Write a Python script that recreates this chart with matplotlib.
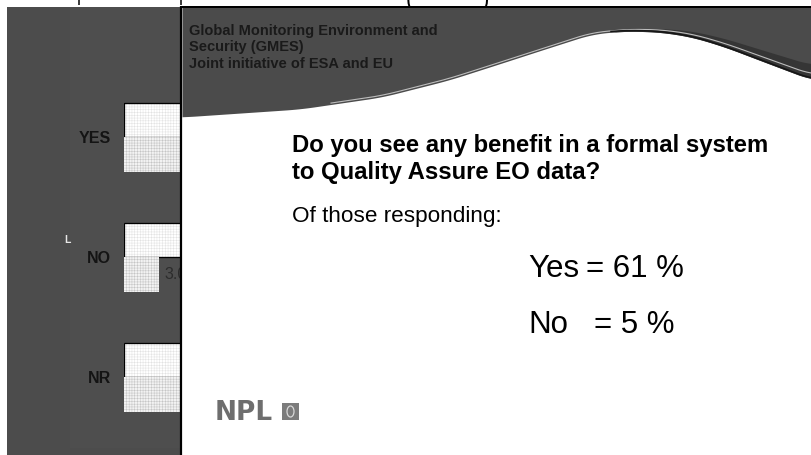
import numpy as np
import matplotlib
matplotlib.use("Agg")
import matplotlib.pyplot as plt
from matplotlib.patches import Rectangle, Ellipse

plt.rcParams['font.family'] = ['Liberation Sans', 'DejaVu Sans']
plt.rcParams['hatch.linewidth'] = 0.35

# ---- data (left bar chart, partly hidden behind the slide) ----
categories = ["YES", "NO", "NR"]
series_a = [61.0, 5.0, 34.0]
series_b = [57.0, 3.0, 39.0]

# ---- slide text ----
header_lines = ["Global Monitoring Environment and",
                "Security (GMES)",
                "Joint initiative of ESA and EU"]
question_lines = ["Do you see any benefit in a formal system",
                  "to Quality Assure EO data?"]
subtitle = "Of those responding:"
answer_labels = ["Yes", "No"]
answer_values = [61, 5]

W, H = 812, 455
fig = plt.figure(figsize=(W / 100, H / 100), dpi=100, facecolor='white')


def frac(x0, y0, x1, y1):
    return [x0 / W, 1 - y1 / H, (x1 - x0) / W, (y1 - y0) / H]


def px(n):
    return n * 72 / 100


# ---- background layer ----
bg = fig.add_axes([0, 0, 1, 1], zorder=0)
bg.set_xlim(0, W)
bg.set_ylim(H, 0)
bg.axis('off')
bg.add_patch(Rectangle((7, 7), 174, 448, color='#4c4c4c', lw=0))
bg.add_patch(Rectangle((70, 7), 111, 441, color='#4e4e4e', lw=0))
for x in (79, 181):
    bg.plot([x, x], [0, 5], color='black', lw=px(1.5), solid_capstyle='butt')
bg.text(406, 11, "(", fontsize=16, color='black', ha='left', va='bottom')
bg.text(482, 11, ")", fontsize=16, color='black', ha='left', va='bottom')
bg.text(67, 240, "L", color='#e6e6e6', fontsize=7.5, fontweight='bold',
        ha='center', va='center')

# ---- bar chart ----
ax = fig.add_axes(frac(124, 7, 181, 455), zorder=1)
ax.patch.set_alpha(0)
ax.set_xlim(0, 4.9)
ax.set_ylim(2.646, -1.0875)
pos = np.arange(len(categories))
h = 0.2875
ya = pos - h / 2
yb = pos + h / 2
ax.barh(ya, series_a, height=h, color='white', edgecolor='#e2e2e2',
        hatch='++++++', lw=0)
ax.barh(ya, series_a, height=h, fill=False, edgecolor='black', lw=px(1.3))
ax.barh(yb, series_b, height=h, color='#f2f2f2', edgecolor='#c4c4c4',
        hatch='++++++', lw=0)
for v, y in zip(series_b, yb):
    ax.text(v + 0.5, y, f"{v:.1f}", fontsize=11.5, color='#2c2c2c',
            ha='left', va='center', clip_on=True)
ax.set_yticks(pos, categories, fontweight='bold', fontsize=11.5, color='#141414')
ax.tick_params(axis='y', length=0, pad=px(13))
ax.set_xticks([])
for s in ax.spines.values():
    s.set_visible(False)

# ---- slide ----
sl = fig.add_axes(frac(182, 7, 812, 455), zorder=2)
sl.set_xlim(182, 812)
sl.set_ylim(455, 7)
sl.axis('off')
sl.add_patch(Rectangle((182, 7), 630, 448, color='white', lw=0, zorder=0))

cx = [182, 300, 382, 449, 502, 542, 592, 625, 660, 692, 725, 759, 812]
cy = [117, 109, 97, 80, 63, 50, 34, 31, 32, 37, 47, 60, 80]
xs = np.arange(182, 813, dtype=float)
wy = np.interp(xs, cx, cy)
k = 31
wy = np.convolve(np.pad(wy, k // 2, mode='edge'), np.ones(k) / k, mode='valid')
sl.fill_between(xs, 6, wy, color='#4b4b4b', lw=0, zorder=1)
t = np.clip((xs - 610) / 202, 0, 1)
sl.fill_between(xs, wy - t * 15, wy, color='#353535', lw=0, zorder=1.5)
m1 = xs > 330
sl.plot(xs[m1], (wy - 1.4 - t * 4)[m1], color='#bdbdbd', lw=0.8, zorder=2)
m2 = xs > 610
sl.plot(xs[m2], (wy - 0.8)[m2], color='#151515', lw=1.1, zorder=2)

sl.plot([181, 181], [6, 455], color='black', lw=px(2.2), clip_on=False,
        zorder=10, solid_capstyle='butt')
sl.plot([180, 812], [6.5, 6.5], color='black', lw=px(2), clip_on=False,
        zorder=10, solid_capstyle='butt')

for i, line in enumerate(header_lines):
    sl.text(189, 35 + 16.5 * i, line, fontsize=10.5, fontweight='bold',
            color='#1a1a1a', ha='left', va='baseline', zorder=5)

for i, line in enumerate(question_lines):
    sl.text(292, 152 + 27 * i, line, fontsize=17.2, fontweight='bold',
            color='black', ha='left', va='baseline', zorder=5)
sl.text(292, 222, subtitle, fontsize=16.2, color='black', ha='left',
        va='baseline', zorder=5)

ans_y = [277, 333]
eq_x = [586, 594]
for lab, val, y, ex in zip(answer_labels, answer_values, ans_y, eq_x):
    sl.text(528, y, lab, fontsize=22.5, color='black', ha='left',
            va='baseline', zorder=5)
    sl.text(ex, y, f"= {val} %", fontsize=22.5, color='black', ha='left',
            va='baseline', zorder=5)

# NPL logo
sl.text(215, 420, "NPL", fontsize=19, fontweight='bold', color='#6e6e6e',
        family='DejaVu Sans', ha='left', va='baseline', zorder=5)
sl.add_patch(Rectangle((282, 403), 17, 17, color='#7c7c7c', lw=0, zorder=5))
sl.add_patch(Ellipse((290.5, 411.5), 7, 11, facecolor='none',
                     edgecolor='#d8d8d8', lw=0.9, zorder=6))

fig.savefig("out.png", dpi=100, facecolor='white')
